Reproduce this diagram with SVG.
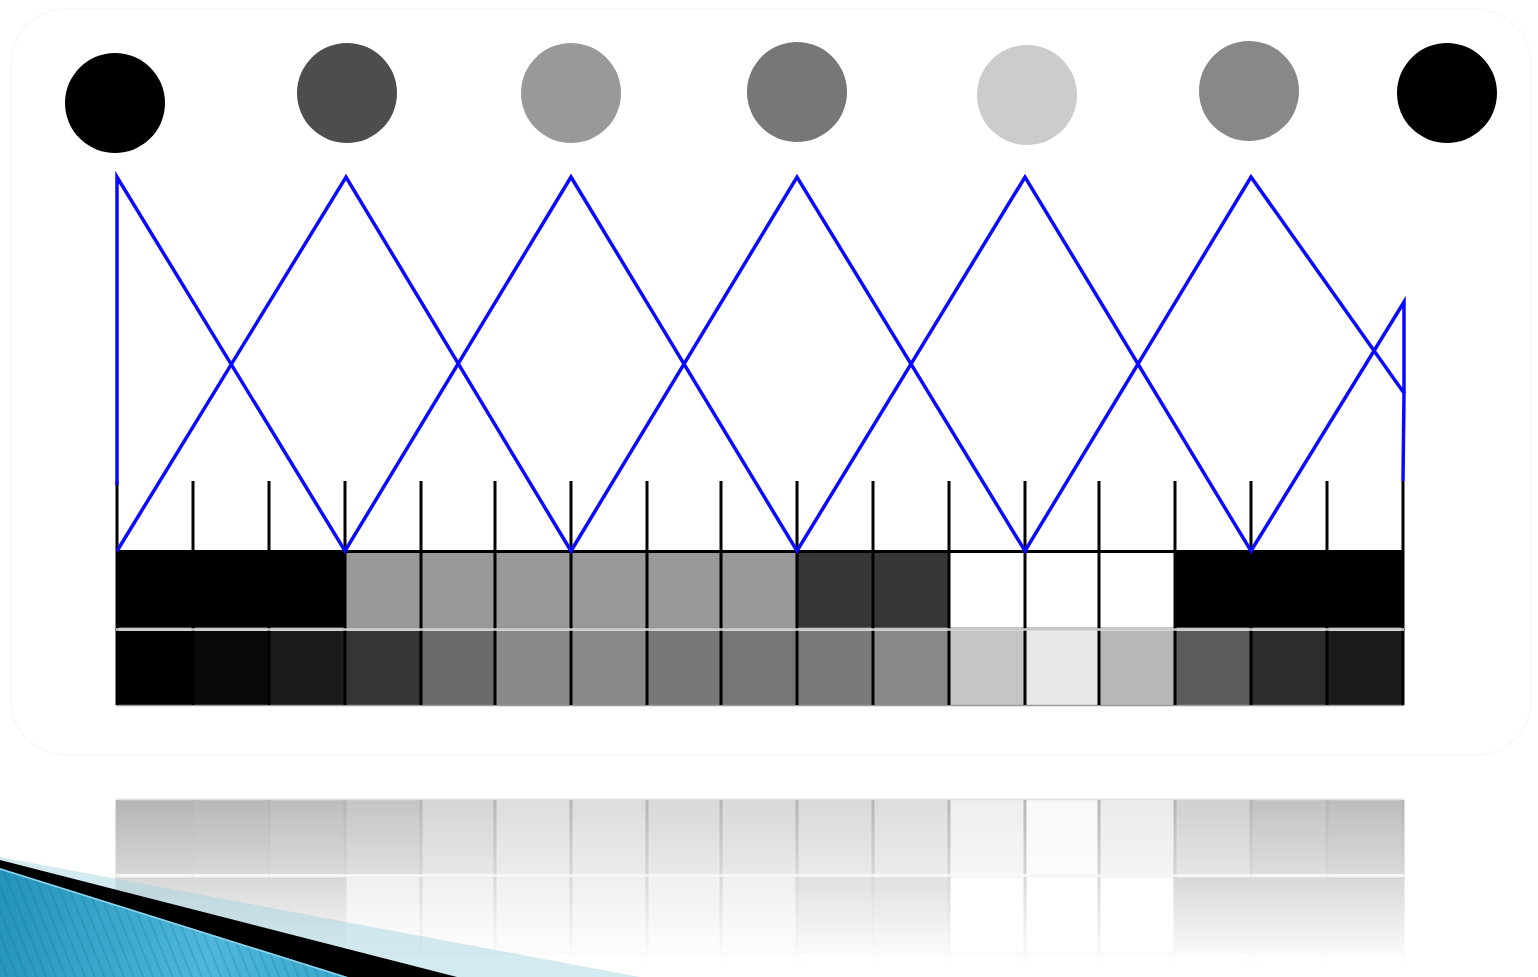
<svg xmlns="http://www.w3.org/2000/svg" xmlns:xlink="http://www.w3.org/1999/xlink" width="1538" height="977" viewBox="0 0 1538 977">
<style>
.tick{stroke:#000;stroke-width:3;fill:none}
.blue{stroke:#0a0aff;stroke-width:3.5;fill:none;stroke-linejoin:miter}
.cellb{stroke:#8a8a8a;stroke-width:1}
</style>
<defs>
<linearGradient id="fade" gradientUnits="userSpaceOnUse" x1="0" y1="800" x2="0" y2="965">
<stop offset="0" stop-color="#fff" stop-opacity="0.29"/>
<stop offset="1" stop-color="#fff" stop-opacity="0"/>
</linearGradient>
<mask id="reflMask" maskUnits="userSpaceOnUse" x="0" y="780" width="1538" height="197">
<rect x="0" y="780" width="1538" height="197" fill="url(#fade)"/>
</mask>
<linearGradient id="blueGrad" gradientUnits="userSpaceOnUse" x1="0" y1="900" x2="350" y2="977">
<stop offset="0" stop-color="#2494bb"/>
<stop offset="0.6" stop-color="#4fb7da"/>
<stop offset="1" stop-color="#3aa6cc"/>
</linearGradient>
<pattern id="stripes" patternUnits="userSpaceOnUse" width="9" height="9" patternTransform="rotate(-22)">
<line x1="1" y1="0" x2="1" y2="9" stroke="#0b5f80" stroke-opacity="0.3" stroke-width="1.2"/>
</pattern>
</defs>

<rect x="0" y="0" width="1538" height="977" fill="#fff"/>
<rect x="11" y="9" width="1520" height="746" rx="55" fill="#fff" stroke="#f6f6f6" stroke-width="1.2"/>

<g id="circles">
<g id="c1"><circle cx="115" cy="103" r="50" fill="#000"/></g>
<g id="c2"><circle cx="347" cy="93" r="50" fill="#4d4d4d"/></g>
<g id="c3"><circle cx="571" cy="93" r="50" fill="#999"/></g>
<g id="c4"><circle cx="797" cy="92" r="50" fill="#777"/></g>
<g id="c5"><circle cx="1027" cy="95" r="50" fill="#ccc"/></g>
<g id="c6"><circle cx="1249" cy="91" r="50" fill="#888"/></g>
<g id="c7"><circle cx="1447" cy="93" r="50" fill="#000"/></g>
</g>

<g id="bands">
<g id="row1">
<rect x="117" y="552" width="228" height="76" fill="#000"/>
<rect x="345" y="552" width="452" height="76" fill="#999"/>
<rect x="797" y="552" width="152" height="76" fill="#363636"/>
<rect x="949" y="552" width="226" height="76" fill="#fff"/>
<rect x="1175" y="552" width="228" height="76" fill="#000"/>
<line x1="116" y1="628" x2="1404" y2="628" class="cellb"/>
</g>
<g id="row2">
<rect x="117" y="631" width="76" height="74" fill="#000"/>
<rect x="193" y="631" width="76" height="74" fill="#0a0a0a"/>
<rect x="269" y="631" width="76" height="74" fill="#1a1a1a"/>
<rect x="345" y="631" width="76" height="74" fill="#353535"/>
<rect x="421" y="631" width="74" height="74" fill="#6a6a6a"/>
<rect x="495" y="631" width="76" height="74" fill="#8a8a8a"/>
<rect x="571" y="631" width="76" height="74" fill="#888"/>
<rect x="647" y="631" width="74" height="74" fill="#777"/>
<rect x="721" y="631" width="76" height="74" fill="#777"/>
<rect x="797" y="631" width="76" height="74" fill="#7a7a7a"/>
<rect x="873" y="631" width="76" height="74" fill="#888"/>
<rect x="949" y="631" width="76" height="74" fill="#c5c5c5"/>
<rect x="1025" y="631" width="74" height="74" fill="#e8e8e8"/>
<rect x="1099" y="631" width="76" height="74" fill="#b8b8b8"/>
<rect x="1175" y="631" width="76" height="74" fill="#5c5c5c"/>
<rect x="1251" y="631" width="76" height="74" fill="#2c2c2c"/>
<rect x="1327" y="631" width="76" height="74" fill="#1a1a1a"/>
<line x1="116" y1="705.5" x2="1404" y2="705.5" stroke="#9a9a9a" stroke-width="1.5"/>
</g>
<g id="ticks">
<path class="tick" d="M117,481V705 M193,481V705 M269,481V705 M345,481V705 M421,481V705 M495,481V705 M571,481V705 M647,481V705 M721,481V705 M797,481V705 M873,481V705 M949,481V705 M1025,481V705 M1099,481V705 M1175,481V705 M1251,481V705 M1327,481V705 M1403,481V705"/>
<line x1="116" y1="551.5" x2="1404" y2="551.5" stroke="#000" stroke-width="3"/>
<line x1="116" y1="629.5" x2="1404" y2="629.5" stroke="#c8c8c8" stroke-width="2.5"/>
</g>
</g>

<g id="connectors">
<polyline class="blue" points="117,485 117,177 345,551 571,177 797,551 1025,177 1251,551 1404,302 1404,393"/>
<polyline class="blue" points="117,551 346,177 571,551 797,177 1025,551 1251,177 1404,393 1403,481"/>
</g>

<g id="reflection" mask="url(#reflMask)">
<g transform="translate(0,1505) scale(1,-1)">
<use xlink:href="#bands"/>
<use xlink:href="#connectors"/>
</g>
</g>

<g id="corner">
<polygon points="0,857 640,977 0,977" fill="#a0d0e0" fill-opacity="0.45"/>
<polygon points="0,860 457,977 0,977" fill="#000"/>
<polygon points="0,868 348,977 0,977" fill="url(#blueGrad)"/>
<polygon points="0,868 348,977 0,977" fill="url(#stripes)"/>
<line x1="0" y1="869" x2="348" y2="978" stroke="#8fd3ea" stroke-width="1.5"/>
</g>
</svg>
